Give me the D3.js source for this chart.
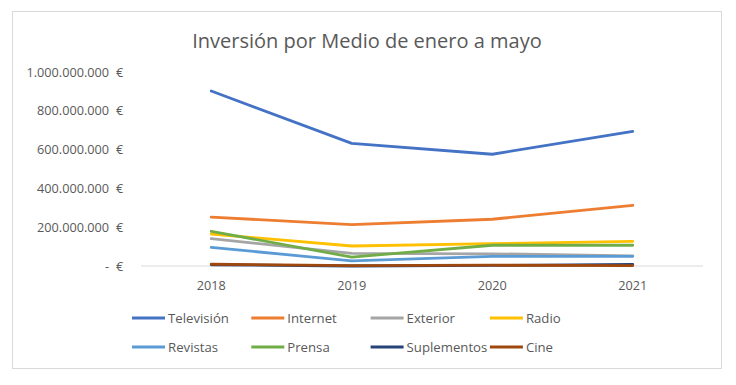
<!DOCTYPE html>
<html>
<head>
<meta charset="utf-8">
<script src="https://cdn.jsdelivr.net/npm/d3@7"></script>
<style>
  body { margin: 0; background: #fff; }
  text { font-family: "Open Sans", "Noto Sans", sans-serif; }
</style>
</head>
<body>
<script>
const years = ['2018', '2019', '2020', '2021']
const seriesNames = ['Televisión', 'Internet', 'Exterior', 'Radio', 'Revistas', 'Prensa', 'Suplementos', 'Cine']
const colors = ['#4472c4', '#ed7d31', '#a5a5a5', '#ffc000', '#5b9bd5', '#70ad47', '#264478', '#9e480e']

// valores en euros
const television = [902e6, 632e6, 576e6, 694e6]
const internet = [252e6, 213e6, 241e6, 313e6]
const exterior = [141e6, 65e6, 63e6, 52e6]
const radio = [165e6, 103e6, 115e6, 127e6]
const revistas = [96e6, 26e6, 50e6, 50e6]
const prensa = [179e6, 46e6, 107e6, 107e6]
const suplementos = [6e6, 0, 3e6, 8e6]
const cine = [9e6, 2e6, 4e6, 2e6]

const yTicks = [0, 200e6, 400e6, 600e6, 800e6, 1000e6]

const allSeries = [television, internet, exterior, radio, revistas, prensa, suplementos, cine]

const m = { width: 736, height: 385 }

const svg = d3.select('body').append('svg')
    .attr('width', m.width)
    .attr('height', m.height)

// marco del grafico
svg.append('rect')
    .attr('x', 12.5).attr('y', 11.5)
    .attr('width', 709).attr('height', 357)
    .attr('fill', '#fff')
    .attr('stroke', '#d9d9d9')

svg.append('text')
    .attr('x', 367).attr('y', 48)
    .attr('text-anchor', 'middle')
    .attr('font-size', 20)
    .attr('fill', '#595959')
    .text('Inversión por Medio de enero a mayo')

const x = d3.scalePoint()
    .domain(years)
    .range([141, 703])
    .padding(0.5)

const y = d3.scaleLinear()
    .domain([0, 1000e6])
    .range([266, 72])

// linea base
svg.append('line')
    .attr('x1', 141).attr('x2', 703)
    .attr('y1', y(0)).attr('y2', y(0))
    .attr('stroke', '#d9d9d9')

const fmt = d3.formatLocale({ decimal: ',', thousands: '.', grouping: [3], currency: ['', ''] }).format(',.0f')

const yAxis = svg.append('g')
yAxis.selectAll('.val')
    .data(yTicks)
    .enter()
    .append('text')
    .attr('x', 109)
    .attr('y', function (d) { return y(d) + 4.5 })
    .attr('text-anchor', 'end')
    .attr('font-size', 12.7)
    .attr('fill', '#595959')
    .text(function (d) { return d == 0 ? '-' : fmt(d) })
yAxis.selectAll('.eur')
    .data(yTicks)
    .enter()
    .append('text')
    .attr('x', 116)
    .attr('y', function (d) { return y(d) + 4.5 })
    .attr('font-size', 12.7)
    .attr('fill', '#595959')
    .text('€')

svg.append('g').selectAll('text')
    .data(years)
    .enter()
    .append('text')
    .attr('x', function (d) { return x(d) })
    .attr('y', 290)
    .attr('text-anchor', 'middle')
    .attr('font-size', 12.7)
    .attr('fill', '#595959')
    .text(function (d) { return d })

const line = d3.line()
    .x(function (d, i) { return x(years[i]) })
    .y(function (d) { return y(d) })

// el ultimo en la lista queda encima
svg.append('g').selectAll('path')
    .data(allSeries)
    .enter()
    .append('path')
    .attr('fill', 'none')
    .attr('stroke', function (d, i) { return colors[i] })
    .attr('stroke-width', 2.8)
    .attr('stroke-linejoin', 'round')
    .attr('stroke-linecap', 'round')
    .attr('d', line)

// leyenda
const legend = svg.append('g').selectAll('g')
    .data(seriesNames)
    .enter()
    .append('g')
    .attr('transform', function (d, i) {
        return 'translate(' + (132 + (i % 4) * 119.3) + ',' + (318 + Math.floor(i / 4) * 29) + ')'
    })
legend.append('line')
    .attr('x1', 0).attr('x2', 33)
    .attr('stroke', function (d, i) { return colors[i] })
    .attr('stroke-width', 2.8)
legend.append('text')
    .attr('x', 36).attr('y', 4.8)
    .attr('font-size', 13.2)
    .attr('fill', '#595959')
    .text(function (d) { return d })
</script>
</body>
</html>
